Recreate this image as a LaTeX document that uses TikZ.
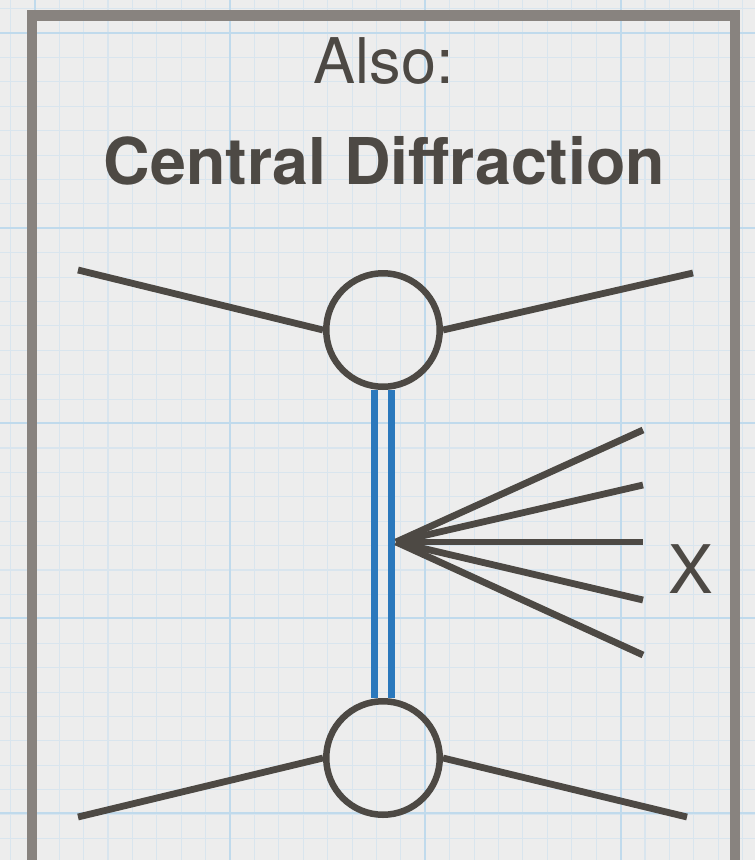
\documentclass[tikz,border=0pt]{standalone}
\usepackage{fontspec}
\setmainfont{TeX Gyre Heros}
\definecolor{ink}{HTML}{4D4944}
\definecolor{framec}{HTML}{88837F}
\definecolor{bluel}{HTML}{2B78BC}
\definecolor{paper}{HTML}{EDEDED}
\definecolor{gridminor}{HTML}{D9E5EE}
\definecolor{gridmajor}{HTML}{C0DAEC}
\tikzset{
  minorline/.style={draw=gridminor, line width=1.1pt},
  majorline/.style={draw=gridmajor, line width=2pt},
  vtx/.style={circle, draw=ink, line width=6.5pt, minimum size=113.5pt, inner sep=0pt},
  inkline/.style={draw=ink, line width=6.8pt},
  blueline/.style={draw=bluel, line width=6.5pt},
  label/.style={text=ink, anchor=base, inner sep=0pt, font=\fontsize{63}{70}\selectfont},
}
\begin{document}
\begin{tikzpicture}[x=1pt, y=-1pt]
\useasboundingbox (0,0) rectangle (755,860);
\clip (0,0) rectangle (755,860);
\fill[paper] (0,0) rectangle (755,860);
% grid
\foreach \i in {-9,...,21} {
  \draw[minorline] ({230+\i*24.41},0) -- ({230+\i*24.41},860);
}
\foreach \j in {-1,...,34} {
  \draw[minorline] (0,{33+\j*24.41}) -- (755,{33+\j*24.41});
}
\foreach \i in {-1,0,1,2} {
  \draw[majorline] ({230+\i*195.3},0) -- ({230+\i*195.3},860);
}
\foreach \j in {0,...,4} {
  \draw[majorline] (0,{33+\j*195.1}) -- (755,{33+\j*195.1});
}
% frame
\draw[framec, line width=10.5pt] (32,15.25) rectangle (735,880);
% titles
\node[label] (also) at (384,83) {Also:};
\node[label, font=\fontsize{64.5}{72}\selectfont\bfseries] (title) at (384.5,184) {Central Diffraction};
% vertices
\node[vtx] (c1) at (383,330) {};
\node[vtx] (c2) at (383,758) {};
% external lines
\coordinate (tl) at (78,270);
\coordinate (tr) at (693,273);
\coordinate (bl) at (78,817);
\coordinate (br) at (687,817);
\draw[inkline] (tl) -- (c1.west);
\draw[inkline] (c1.east) -- (tr);
\draw[inkline] (bl) -- (c2.west);
\draw[inkline] (c2.east) -- (br);
% pomeron double line
\draw[blueline] ([xshift=-8.5pt]c1.south) -- ([xshift=-8.5pt]c2.north);
\draw[blueline] ([xshift=8.5pt]c1.south) -- ([xshift=8.5pt]c2.north);
% fan
\coordinate (fo) at (396,542);
\coordinate (f1) at (643,430);
\coordinate (f2) at (643,485);
\coordinate (f3) at (643,542);
\coordinate (f4) at (643,600);
\coordinate (f5) at (643,655);
\foreach \f in {f1,f2,f3,f4,f5} {
  \draw[inkline] (fo) -- (\f);
}
\node[label, font=\fontsize{67}{72}\selectfont] (xlab) at (691,593) {X};
\end{tikzpicture}
\end{document}
